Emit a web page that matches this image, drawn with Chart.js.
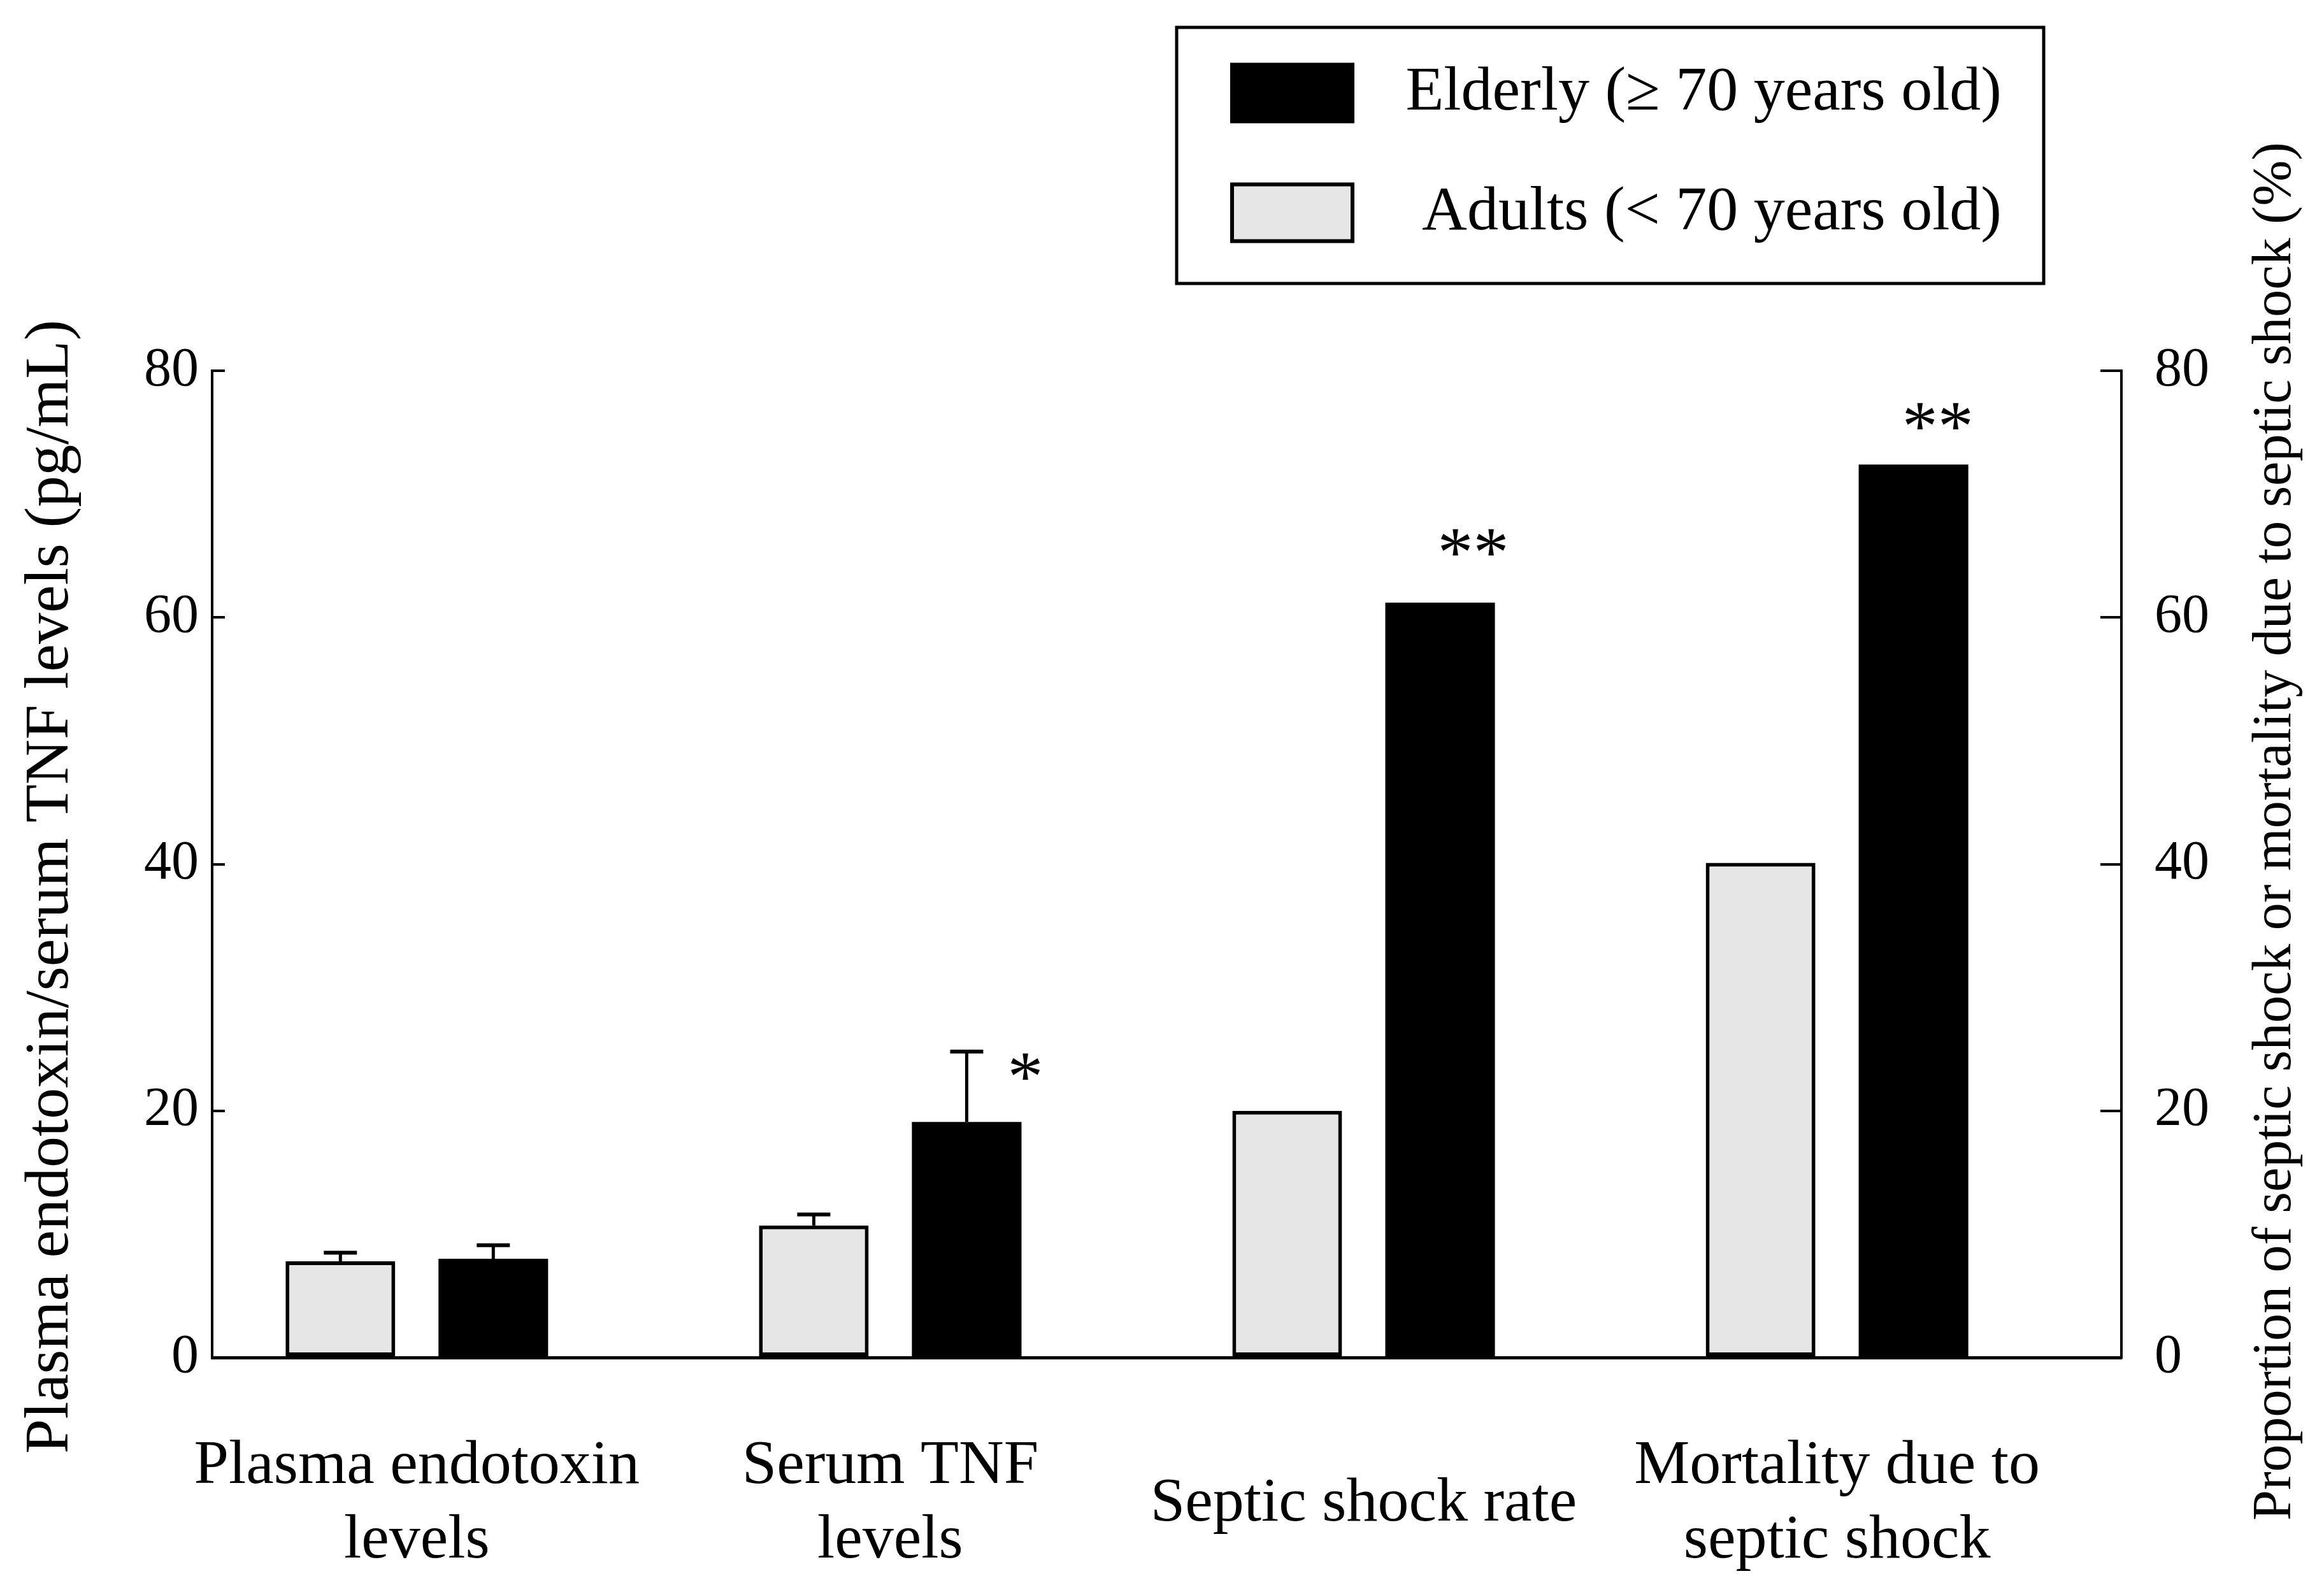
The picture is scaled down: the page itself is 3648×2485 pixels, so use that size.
<!DOCTYPE html>
<html>
<head>
<meta charset="utf-8">
<script src="https://cdn.jsdelivr.net/npm/chart.js@4.4.1/dist/chart.umd.min.js"></script>
<style>
html, body { margin: 0; padding: 0; background: #ffffff; }
canvas { display: block; }
</style>
</head>
<body>
<canvas id="c" width="3648" height="2485"></canvas>
<script>
// ---------------- data ----------------
const categories = [['Plasma endotoxin', 'levels'], ['Serum TNF', 'levels'], 'Septic shock rate', ['Mortality due to', 'septic shock']];
const adultsLabel = 'Adults (< 70 years old)';
const elderlyLabel = 'Elderly (\u2265 70 years old)';
const adultsValues = [7.8, 10.7, 20.0, 40.1];
const elderlyValues = [8.0, 19.1, 61.2, 72.4];
const adultsError = [0.7, 0.9, null, null];
const elderlyError = [1.1, 5.7, null, null];
const elderlySignificance = ['', '*', '**', '**'];
const yTicks = [0, 20, 40, 60, 80];
const leftTitle = 'Plasma endotoxin/serum TNF levels (pg/mL)';
const rightTitle = 'Proportion of septic shock or mortality due to septic shock (%)';

// ---------------- styles ----------------
const FAMILY = "'Liberation Serif', 'Times New Roman', serif";
Chart.defaults.font.family = FAMILY;
Chart.defaults.color = '#000000';

const toPoints = (vals) => vals.map((v, i) => ({ x: i, y: v }));

const errorBarPlugin = {
  id: 'errorBars',
  afterDatasetsDraw(chart, args, opts) {
    const ctx = chart.ctx;
    const yScale = chart.scales.y;
    chart.data.datasets.forEach((ds, di) => {
      if (!ds.errors) return;
      const meta = chart.getDatasetMeta(di);
      meta.data.forEach((el, i) => {
        const e = ds.errors[i];
        if (e === null || e === undefined) return;
        const yTop = yScale.getPixelForValue(ds.data[i].y + e);
        ctx.save();
        ctx.strokeStyle = opts.color;
        ctx.lineWidth = opts.lineWidth;
        ctx.beginPath();
        ctx.moveTo(el.x, el.y);
        ctx.lineTo(el.x, yTop);
        ctx.stroke();
        ctx.lineWidth = opts.capWidth;
        ctx.beginPath();
        ctx.moveTo(el.x - opts.capHalf, yTop);
        ctx.lineTo(el.x + opts.capHalf, yTop);
        ctx.stroke();
        ctx.restore();
      });
    });
  }
};

const significancePlugin = {
  id: 'significance',
  afterDatasetsDraw(chart, args, opts) {
    const ctx = chart.ctx;
    const yScale = chart.scales.y;
    const di = chart.data.datasets.findIndex(d => d.significance);
    if (di < 0) return;
    const ds = chart.data.datasets[di];
    const meta = chart.getDatasetMeta(di);
    ctx.save();
    ctx.fillStyle = '#000000';
    ctx.font = opts.fontSize + 'px ' + FAMILY;
    ctx.textAlign = 'center';
    ctx.textBaseline = 'alphabetic';
    meta.data.forEach((el, i) => {
      const s = ds.significance[i];
      const off = opts.offsets[i];
      if (!s || !off) return;
      const e = ds.errors ? ds.errors[i] : null;
      const anchorY = (e !== null && e !== undefined) ? yScale.getPixelForValue(ds.data[i].y + e) : el.y;
      ctx.fillText(s, el.x + off.dx, anchorY + off.dy);
    });
    ctx.restore();
  }
};

const boxedLegendPlugin = {
  id: 'boxedLegend',
  afterDraw(chart, args, o) {
    const ctx = chart.ctx;
    ctx.save();
    ctx.strokeStyle = '#000000';
    ctx.lineWidth = o.lineWidth;
    ctx.strokeRect(o.left, o.top, o.right - o.left, o.bottom - o.top);
    const items = chart.data.datasets.slice().reverse();
    ctx.font = o.fontSize + 'px ' + FAMILY;
    ctx.textAlign = 'right';
    ctx.textBaseline = 'middle';
    items.forEach((ds, k) => {
      const cy = o.rows[k];
      const x = o.swatchLeft, y = cy - o.swatchHeight / 2;
      ctx.fillStyle = ds.backgroundColor;
      ctx.fillRect(x, y, o.swatchWidth, o.swatchHeight);
      if (ds.borderWidth) {
        const bw = ds.borderWidth;
        ctx.strokeStyle = ds.borderColor;
        ctx.lineWidth = bw;
        ctx.strokeRect(x + bw / 2, y + bw / 2, o.swatchWidth - bw, o.swatchHeight - bw);
      }
      ctx.fillStyle = '#000000';
      ctx.fillText(ds.label, o.textRight, cy);
    });
    ctx.restore();
  }
};

// vertical axis titles, both reading bottom-to-top as in the original figure
const axisTitlesPlugin = {
  id: 'axisTitles',
  afterDraw(chart, args, o) {
    const ctx = chart.ctx;
    o.items.forEach(it => {
      ctx.save();
      ctx.translate(it.x, it.y);
      ctx.rotate(-Math.PI / 2);
      ctx.font = it.fontSize + 'px ' + FAMILY;
      ctx.fillStyle = '#000000';
      ctx.textAlign = 'center';
      ctx.textBaseline = 'middle';
      ctx.fillText(it.text, 0, 0);
      ctx.restore();
    });
  }
};

const yTickBuilder = (scale) => { scale.ticks = yTicks.map(v => ({ value: v })); };

new Chart(document.getElementById('c'), {
  type: 'bar',
  data: {
    datasets: [
      {
        label: adultsLabel,
        data: toPoints(adultsValues),
        errors: adultsError,
        backgroundColor: '#e6e6e6',
        borderColor: '#000000',
        borderWidth: 6,
        borderSkipped: false,
        barPercentage: 0.717,
        categoryPercentage: 0.646
      },
      {
        label: elderlyLabel,
        data: toPoints(elderlyValues),
        errors: elderlyError,
        significance: elderlySignificance,
        backgroundColor: '#000000',
        borderWidth: 0,
        barPercentage: 0.717,
        categoryPercentage: 0.646
      }
    ]
  },
  options: {
    responsive: false,
    devicePixelRatio: 1,
    animation: false,
    events: [],
    layout: { padding: { top: 582, left: 0, right: 0, bottom: 0 } },
    plugins: {
      legend: { display: false },
      tooltip: { enabled: false },
      errorBars: { color: '#000000', lineWidth: 5, capWidth: 6, capHalf: 26 },
      significance: {
        fontSize: 112,
        offsets: [null, { dx: 92, dy: 76 }, { dx: 52, dy: -42 }, { dx: 38, dy: -23 }]
      },
      boxedLegend: {
        left: 1847, top: 43, right: 3208, bottom: 445, lineWidth: 5,
        swatchLeft: 1931, swatchWidth: 195, swatchHeight: 95,
        rows: [146, 334], textRight: 3142, fontSize: 98
      },
      axisTitles: {
        items: [
          { text: leftTitle, x: 80, y: 1392, fontSize: 98 },
          { text: rightTitle, x: 3572, y: 1305, fontSize: 86 }
        ]
      }
    },
    scales: {
      x: {
        type: 'linear',
        position: 'bottom',
        min: -0.4324,
        max: 3.6007,
        offset: false,
        afterBuildTicks: (scale) => { scale.ticks = categories.map((c, i) => ({ value: i })); },
        afterFit: (scale) => { scale.height = 354; },
        grid: { display: false, drawTicks: false },
        border: { display: true, color: '#000000', width: 5 },
        ticks: {
          autoSkip: false,
          maxRotation: 0,
          minRotation: 0,
          crossAlign: 'center',
          padding: 171,
          color: '#000000',
          font: { size: 98, family: FAMILY, lineHeight: 1.2 },
          callback: (value) => categories[value]
        }
      },
      y: {
        type: 'linear',
        position: 'left',
        min: yTicks[0],
        max: yTicks[yTicks.length - 1],
        afterBuildTicks: yTickBuilder,
        afterFit: (scale) => { scale.width = 333; },
        grid: { display: true, drawOnChartArea: false, drawTicks: true, tickLength: -20, lineWidth: 4, color: '#000000' },
        border: { display: true, color: '#000000', width: 4 },
        ticks: { padding: 41, color: '#000000', font: { size: 86, family: FAMILY } }
      },
      y1: {
        type: 'linear',
        position: 'right',
        min: yTicks[0],
        max: yTicks[yTicks.length - 1],
        afterBuildTicks: yTickBuilder,
        afterFit: (scale) => { scale.width = 318; },
        grid: { display: true, drawOnChartArea: false, drawTicks: true, tickLength: -33, lineWidth: 4, color: '#000000' },
        border: { display: true, color: '#000000', width: 4 },
        ticks: { padding: 85, color: '#000000', font: { size: 86, family: FAMILY } }
      }
    }
  },
  plugins: [errorBarPlugin, significancePlugin, boxedLegendPlugin, axisTitlesPlugin]
});
</script>
</body>
</html>
